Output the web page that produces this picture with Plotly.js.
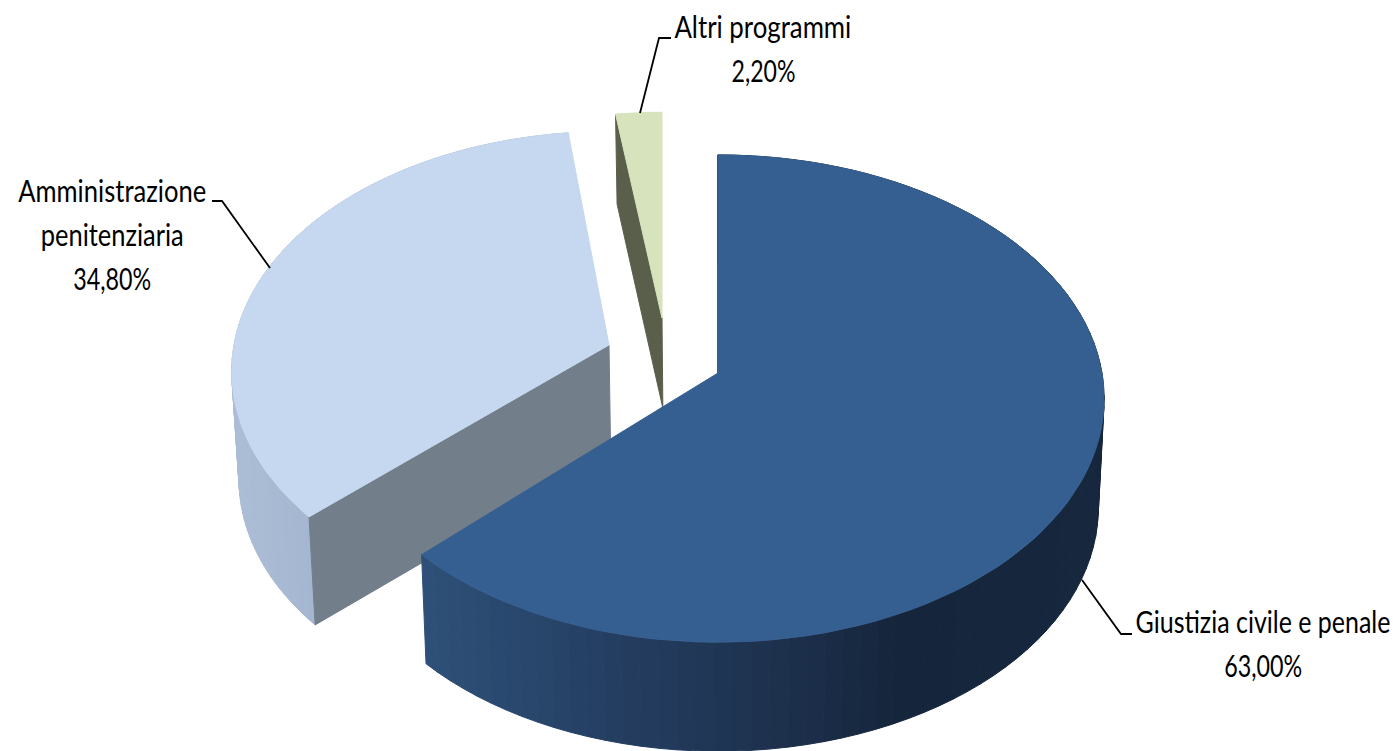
<!DOCTYPE html>
<html><head><meta charset="utf-8">
<script src="https://cdn.plot.ly/plotly-3.0.1.min.js"></script>
<style>html,body{margin:0;padding:0;background:#fff}#c{width:1399px;height:751px}</style>
</head><body><div id="c"></div>
<script>
// data
const categories = ["Giustizia civile e penale", "Amministrazione<br>penitenziaria", "Altri programmi"];
const values = [63.0, 34.8, 2.2];

// styles / 3D geometry
const topColors = ["#365F91", "#C6D8EF", "#D6E3BC"];
const cutColors = ["#10243E", "#727E8A", "#5A5F4B"];
const apexX = [718, 609, 662];
const apexY = [373, 345, 318];
const radiusX = [384, 375, 370];
const radiusY = [241, 237, 226];
const tilts = [0.105, 0.11, 0.0984];
const depth = [109, 108, 90];
const angleScale = [0.995, 1, 1];
const angleShift = [0, 1, 0];
const showWall = [true, true, false];
const shrink = 0.985, shrinkCx = 718;
const wallStops = [
  [[427, [46, 80, 120]], [600, [37, 63, 99]], [800, [28, 47, 74]], [900, [21, 37, 59]], [1110, [23, 39, 62]]],
  [[232, [172, 189, 214]], [320, [164, 181, 207]]],
  [[600, [90, 95, 75]], [670, [90, 95, 75]]]
];
const font = "Lato, sans-serif";
const fontSize = 30;
const labelX = [1263, 112, 763];
const labelY = [621, 190, 26];
const labelWidths = [[255, 78], [188, 143, 78], [177, 64]];
const lineGap = 44;
const leadersX = [[1082, 1121, 1132], [270, 222, 212], [640, 659, 671]];
const leadersY = [[580, 634, 634], [268, 201, 201], [113, 38, 38]];

function proj(i, deg, r, low) {
  const a = deg * Math.PI / 180, u = r * Math.sin(a), v = r * Math.cos(a), w = 1 + tilts[i] * v;
  let X = apexX[i] + radiusX[i] * u / w, Y = apexY[i] - radiusY[i] * v / w;
  if (low) { X = shrinkCx + (X - shrinkCx) * shrink; Y += depth[i]; }
  return [X, Y];
}
function poly(pts, color, name) {
  return {type: "scatter", mode: "lines", x: pts.map(p => p[0]).concat(pts[0][0]), y: pts.map(p => p[1]).concat(pts[0][1]),
    fill: "toself", fillcolor: color, line: {color: color, width: 1}, hoverinfo: name ? "text" : "skip", text: name || "", showlegend: false};
}
function wallColor(i, X) {
  const s = wallStops[i];
  if (X <= s[0][0]) return `rgb(${s[0][1].join(",")})`;
  for (let k = 1; k < s.length; k++) if (X <= s[k][0]) {
    const t = (X - s[k-1][0]) / (s[k][0] - s[k-1][0]);
    return "rgb(" + s[k][1].map((c, j) => Math.round(s[k-1][1][j] + (c - s[k-1][1][j]) * t)).join(",") + ")";
  }
  return `rgb(${s[s.length-1][1].join(",")})`;
}
const total = values.reduce((a, b) => a + b, 0);
const starts = [], ends = [];
let acc = 0;
values.forEach(v => { starts.push(acc / total * 360); acc += v; ends.push(acc / total * 360); });

function sliceTraces(i) {
  const out = [], n = 90;
  const mid = i === 0 ? 0 : (starts[i] + ends[i]) / 2;
  const a0 = mid + (starts[i] - mid) * angleScale[i] + angleShift[i], a1 = mid + (ends[i] - mid) * angleScale[i] + angleShift[i];
  const arc = [];
  for (let k = 0; k <= n; k++) arc.push(a0 + (a1 - a0) * k / n);
  // outer wall, banded horizontally
  if (showWall[i]) for (let k = 0; k < n; k++) {
    const p = proj(i, arc[k], 1), q = proj(i, arc[k+1], 1);
    out.push(poly([p, q, proj(i, arc[k+1], 1, true), proj(i, arc[k], 1, true)], wallColor(i, (p[0] + q[0]) / 2)));
  }
  // the one visible cut face (clockwise start of the slice)
  const apex = [apexX[i], apexY[i]], apexLow = proj(i, 0, 0, true);
  out.push(poly([apex, proj(i, a0, 1), proj(i, a0, 1, true), apexLow], cutColors[i]));
  // top face
  out.push(poly([apex].concat(arc.map(a => proj(i, a, 1))), topColors[i], categories[i].replace("<br>", " ") + ": " + values[i] + "%"));
  return out;
}
const traces = [].concat(sliceTraces(1), sliceTraces(2), sliceTraces(0));

const annotations = [], shapes = [], widths = [];
categories.forEach((c, i) => {
  const lines = c.split("<br>").concat(values[i].toFixed(2).replace(".", ",") + "%");
  lines.forEach((t, j) => {
    widths.push(labelWidths[i][j]);
    annotations.push({x: labelX[i], y: labelY[i] + j * lineGap, xref: "x", yref: "y", text: t, showarrow: false,
      xanchor: "center", yanchor: "middle", font: {family: font, size: fontSize, color: "#000"}});
  });
  shapes.push({type: "path", xref: "x", yref: "y", line: {color: "#000", width: 1.8},
    path: leadersX[i].map((x, j) => (j ? "L" : "M") + x + "," + leadersY[i][j]).join(" ")});
});

Plotly.newPlot("c", traces, {
  width: 1399, height: 751, margin: {l: 0, r: 0, t: 0, b: 0}, paper_bgcolor: "#fff", plot_bgcolor: "#fff", showlegend: false,
  xaxis: {range: [0, 1399], visible: false, fixedrange: true},
  yaxis: {range: [751, 0], visible: false, fixedrange: true},
  annotations, shapes
}, {displayModeBar: false, staticPlot: true}).then(gd => {
  gd.querySelectorAll(".annotation-text").forEach((el, k) => {
    const cx = parseFloat(el.getAttribute("x")) || 0, s = widths[k] / el.getComputedTextLength();
    el.setAttribute("transform", `translate(${cx},0) scale(${s},1) translate(${-cx},0)`);
  });
});
</script></body></html>
